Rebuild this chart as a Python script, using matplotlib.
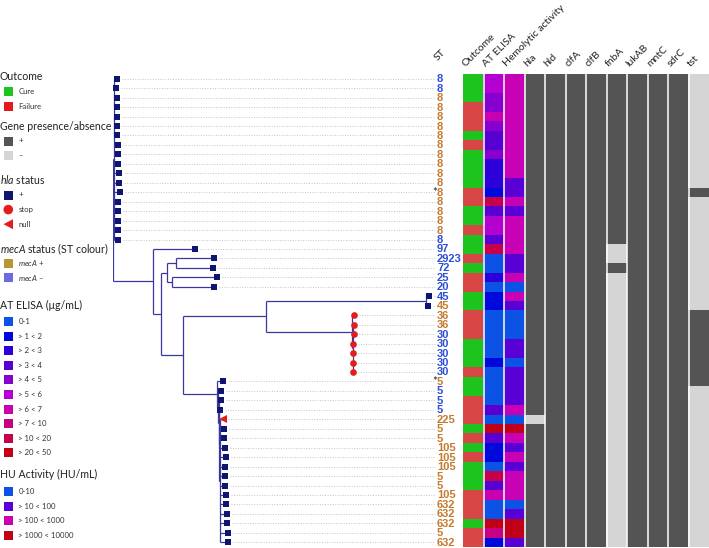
import numpy as np
import matplotlib
matplotlib.use("Agg")
import matplotlib.pyplot as plt
from matplotlib.patches import Rectangle, Circle, Polygon

plt.rcParams["font.family"] = ["Lato", "DejaVu Sans"]
plt.rcParams["mathtext.fontset"] = "custom"
plt.rcParams["mathtext.rm"] = "Lato"
plt.rcParams["mathtext.it"] = "Lato:italic"
plt.rcParams["mathtext.bf"] = "Lato:bold"

W, H = 709, 548

# ---- data ----------------------------------------------------------------
# tree, leaves r0..r49 are the rows top to bottom, branch lengths in tree units
TREE = ("((r0:3.2,r1:2.5,r2:3.2,r3:3.2,r4:3.2,r5:3.2,r6:3.8,r7:4.8,r8:4.8,r9:4.8,"
        "r10:5.5,r11:5.5,r12:6.2,r13:4.8,r14:4.8,r15:4.5,r16:4.5,r17:4.5):0.5,"
        "(r18:42,(((r19:38,r20:36.7):9,(r21:45.6,r22:42.6):4.7):6,"
        "(((r23:3,r24:2):160.3,(r25:2.0,(r26:1.8,r27:1.5,r28:0.8,r29:0.2,r30:0.8,r31:0.8):0.5):86.3):82.4,"
        "(r32:6,(r33:3.2,(r34:2.2,(r35:1.0,(r36:3.3,r37:4.0,r38:4.3,r39:5.3,r40:6.0,r41:5.3,r42:5.0,"
        "r43:5.0,r44:5.7,r45:6.0,r46:6.7,r47:7.3,r48:8.3,r49:7.7):1.0):0.5):1.0):0.8):33.4):22.3):8):40);")

st = [8] * 18 + [97, 2923, 72, 25, 20, 45, 45, 36, 36, 30, 30, 30, 30, 30,
                 5, 5, 5, 5, 225, 5, 5, 105, 105, 105, 5, 5, 105, 632, 632, 632, 5, 632]
mecA = [0, 0] + [1] * 15 + [0] + [0, 0, 0, 0, 0, 0, 1, 1, 1, 0, 0, 0, 0, 0,
                                  1, 0, 0, 0] + [1] * 14
starred = [12, 32]
hla_status = ["+"] * 25 + ["stop"] * 7 + ["+"] * 4 + ["null"] + ["+"] * 13

# 1 = cure, 0 = failure
outcome = [1, 1, 1, 0, 0, 0, 1, 0, 1, 1,
           1, 1, 0, 0, 1, 1, 0, 1, 1, 0,
           1, 0, 0, 1, 1, 0, 0, 0, 1, 1,
           1, 0, 1, 1, 0, 0, 0, 1, 0, 1,
           0, 1, 1, 1, 0, 0, 0, 1, 0, 0]
at_elisa = [5, 5, 4, 4, 6, 4, 3, 3, 4, 2,
            2, 2, 1, 8, 3, 5, 5, 3, 8, 0,
            0, 2, 0, 1, 1, 0, 0, 0, 0, 0,
            1, 0, 0, 0, 0, 3, 0, 9, 3, 1,
            1, 0, 8, 3, 6, 0, 0, 9, 7, 1]
hu_activity = [2, 2, 2, 2, 2, 2, 2, 2, 2, 2,
               2, 1, 1, 2, 1, 2, 2, 2, 2, 1,
               1, 2, 0, 2, 1, 0, 0, 0, 1, 1,
               0, 1, 1, 1, 1, 2, 0, 3, 2, 1,
               2, 1, 2, 2, 2, 0, 1, 3, 3, 1]

genes = ["hla", "hld", "clfA", "clfB", "fnbA", "lukAB", "mntC", "sdrC", "tst"]
ALL = "1111111111 1111111111 1111111111 1111111111 1111111111"
gene_presence = {
    "hla":   "1111111111 1111111111 1111111111 1111110111 1111111111",
    "hld":   ALL,
    "clfA":  ALL,
    "clfB":  ALL,
    "fnbA":  "1111111111 1111111100 1000000000 0000000000 0000000000",
    "lukAB": ALL,
    "mntC":  ALL,
    "sdrC":  ALL,
    "tst":   "0000000000 0010000000 0000011111 1110000000 0000000000",
}

elisa_labels = ["0-1", "> 1 < 2", "> 2 < 3", "> 3 < 4", "> 4 < 5", "> 5 < 6",
                "> 6 < 7", "> 7 < 10", "> 10 < 20", "> 20 < 50"]
elisa_colors = ["#0c52e4", "#0008dc", "#2c00d8", "#5800d2", "#8800d0", "#b400d0",
                "#c800b0", "#c80084", "#c6004a", "#c00018"]
hu_labels = ["0-10", "> 10 < 100", "> 100 < 1000", "> 1000 < 10000"]
hu_colors = ["#0c52e4", "#5800d6", "#c800b6", "#c00018"]

CURE = "#1ec41e"
FAIL = "#d94646"
FAIL_LEG = "#e6181c"
GENE_ON = "#545454"
GENE_OFF = "#d5d5d5"
NAVY = "#0e1670"
RED = "#e41c1c"
TREE_C = "#3838a0"
ST_POS = "#c57a2c"
ST_NEG = "#2c4fd8"
LEG_POS = "#b9962e"
LEG_NEG = "#6a6ae2"
N = len(st)


# ---- tree helpers -----------------------------------------------------------
def parse_newick(s):
    pos = 0

    def node():
        nonlocal pos
        children = []
        if s[pos] == "(":
            pos += 1
            while True:
                children.append(node())
                if s[pos] == ",":
                    pos += 1
                    continue
                pos += 1
                break
        start = pos
        while s[pos] not in ",():;":
            pos += 1
        name = s[start:pos]
        length = 0.0
        if s[pos] == ":":
            pos += 1
            start = pos
            while s[pos] not in ",();":
                pos += 1
            length = float(s[start:pos])
        return {"name": name, "len": length, "children": children}

    return node()


def layout(n, depth=0.0):
    n["x"] = depth + n["len"]
    if n["children"]:
        for c in n["children"]:
            layout(c, n["x"])
        n["y"] = (n["children"][0]["y"] + n["children"][-1]["y"]) / 2
    else:
        n["y"] = int(n["name"][1:]) + 0.5


def leaves(n):
    if not n["children"]:
        return [n]
    out = []
    for c in n["children"]:
        out += leaves(c)
    return out


def draw_tree(n, ax):
    if not n["children"]:
        return
    ys = [c["y"] for c in n["children"]]
    ax.plot([n["x"], n["x"]], [min(ys), max(ys)], color=TREE_C, lw=0.9,
            solid_capstyle="butt", zorder=2)
    for c in n["children"]:
        ax.plot([n["x"], c["x"]], [c["y"], c["y"]], color=TREE_C, lw=0.9,
                solid_capstyle="butt", zorder=2)
        draw_tree(c, ax)


# ---- figure -------------------------------------------------------------------
fig = plt.figure(figsize=(W / 100, H / 100), dpi=100)
top_px, bot_px = 74, 547
b = 1 - bot_px / H
h = (bot_px - top_px) / H

# tree
tree = parse_newick(TREE)
layout(tree)
tax = fig.add_axes([113 / W, b, 324 / W, h])
tax.set_xlim(0, 324)
tax.set_ylim(N, 0)
tax.axis("off")

for lf in leaves(tree):
    tax.plot([lf["x"] + 5, 322], [lf["y"], lf["y"]], color="#c4c4c4", lw=0.7,
             ls=(0, (1, 1.6)), zorder=1)
draw_tree(tree, tax)
for lf in leaves(tree):
    i = int(lf["name"][1:])
    s = hla_status[i]
    if s == "+":
        tax.plot(lf["x"], lf["y"], "s", color=NAVY, ms=4.4, mew=0, zorder=3)
    elif s == "stop":
        tax.plot(lf["x"], lf["y"], "o", color=RED, ms=4.8, mew=0, zorder=3)
    else:
        tax.plot(lf["x"], lf["y"], "<", color=RED, ms=5.8, mew=0, zorder=3)

for i, v in enumerate(st):
    tax.text(324, i + 0.55, str(v), color=ST_POS if mecA[i] else ST_NEG,
             fontsize=8.0, fontweight="bold", family="Liberation Sans",
             ha="left", va="center", clip_on=False)
for i in starred:
    tax.text(324, i + 0.5, "*", color="#222222", fontsize=8, ha="right",
             va="center", clip_on=False)
tax.text(326, -1.2, "ST", rotation=45, rotation_mode="anchor", ha="left",
         va="bottom", fontsize=7.5, color="#222222")

# heatmap
hax = fig.add_axes([463 / W, b, 246 / W, h])
cols = 3 + len(genes)
img = np.zeros((N, cols, 3))
to_rgb = matplotlib.colors.to_rgb
for i in range(N):
    img[i, 0] = to_rgb(CURE if outcome[i] else FAIL)
    img[i, 1] = to_rgb(elisa_colors[at_elisa[i]])
    img[i, 2] = to_rgb(hu_colors[hu_activity[i]])
    for j, g in enumerate(genes):
        pres = gene_presence[g].replace(" ", "")[i] == "1"
        img[i, 3 + j] = to_rgb(GENE_ON if pres else GENE_OFF)
hax.imshow(img, aspect="auto", extent=(0, cols, N, 0), interpolation="nearest")
for x in range(1, cols):
    hax.axvline(x, color="white", lw=1.1)
hax.set_xlim(0, cols)
hax.set_ylim(N, 0)
hax.axis("off")

headers = ["Outcome", "AT ELISA", "Hemolytic activity"] + genes
for j, name in enumerate(headers):
    hax.text(j + 0.2, -0.6, name, rotation=45, rotation_mode="anchor",
             ha="left", va="bottom", fontsize=7.5, color="#222222", clip_on=False)

# legend (pixel coordinates)
lax = fig.add_axes([0, 0, 1, 1])
lax.set_xlim(0, W)
lax.set_ylim(H, 0)
lax.axis("off")

sections = [
    ("Outcome", [("Cure", CURE, "s"), ("Failure", FAIL_LEG, "s")]),
    ("Gene presence/absence", [("+", GENE_ON, "s"), ("\u2013", GENE_OFF, "s")]),
    (r"$\it{hla}$ status", [("+", NAVY, "s"), ("stop", RED, "o"), ("null", RED, "<")]),
    (r"$\it{mecA}$ status (ST colour)", [(r"$\it{mecA}$ +", LEG_POS, "s"),
                                       (r"$\it{mecA}$ " + "\u2013", LEG_NEG, "s")]),
    ("AT ELISA (\u03bcg/mL)", [(l, c, "s") for l, c in zip(elisa_labels, elisa_colors)]),
    ("HU Activity (HU/mL)", [(l, c, "s") for l, c in zip(hu_labels, hu_colors)]),
]
title_y = [77, 126.7, 179.3, 249.3, 305, 474.3]
first_off = [14.7, 14.3, 15.7, 14.0, 16.5, 17.2]
step = 14.6

for (title, items), ty, off in zip(sections, title_y, first_off):
    lax.text(0, ty, title, fontsize=7.6, color="#222222", ha="left", va="center")
    for k, (lab, col, mk) in enumerate(items):
        y = ty + off + k * step
        if mk == "s":
            lax.add_patch(Rectangle((3.5, y - 4.5), 9.5, 9, facecolor=col, edgecolor="none"))
        elif mk == "o":
            lax.add_patch(Circle((8.3, y), 4.8, facecolor=col, edgecolor="none"))
        else:
            lax.add_patch(Polygon([(3.5, y), (13, y - 5), (13, y + 5)], closed=True,
                                  facecolor=col, edgecolor="none"))
        lax.text(18.5, y, lab, fontsize=5.6, color="#333333", ha="left", va="center")

fig.savefig("out.png", dpi=100)
